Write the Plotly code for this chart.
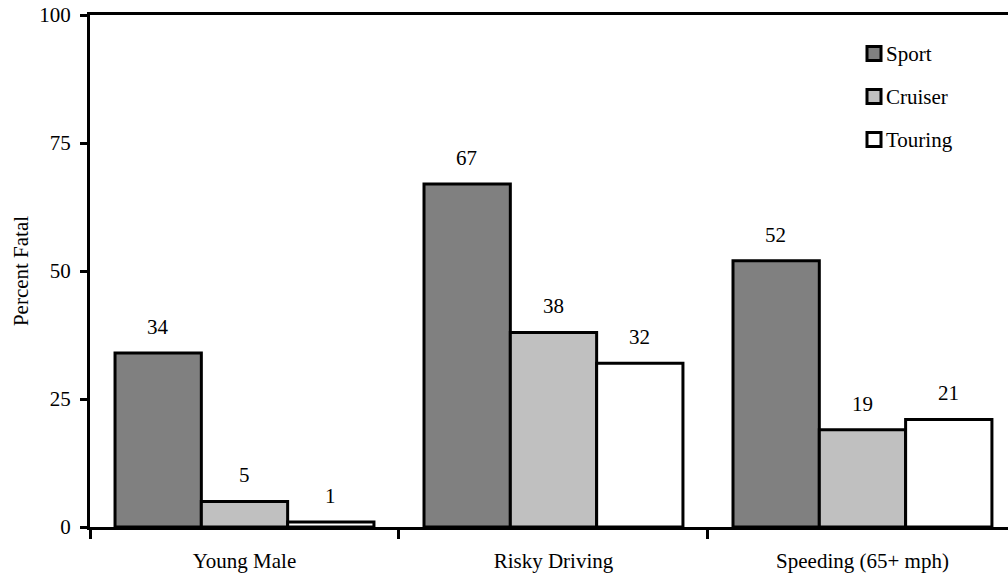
import plotly.graph_objects as go

categories = ["Young Male", "Risky Driving", "Speeding (65+ mph)"]
sport = [34, 67, 52]
cruiser = [5, 38, 19]
touring = [1, 32, 21]
y_ticks = [0, 25, 50, 75, 100]

series = [
    ("Sport", sport, "#808080"),
    ("Cruiser", cruiser, "#c0c0c0"),
    ("Touring", touring, "#ffffff"),
]

FONT = "Liberation Serif"

fig = go.Figure()
for name, vals, color in series:
    fig.add_trace(go.Bar(
        name=name,
        x=categories,
        y=vals,
        showlegend=False,
        marker=dict(color=color, line=dict(color="black", width=3)),
    ))

# value labels above each bar (offset per series within the group)
bar_px = 86.5
for i, (name, vals, color) in enumerate(series):
    for cat, v in zip(categories, vals):
        fig.add_annotation(
            x=cat, y=v, text=str(v), showarrow=False,
            xshift=(i - 1) * bar_px, yshift=12, yanchor="bottom",
            font=dict(family=FONT, size=21, color="black"),
        )

# compact legend: square swatch with the series name right beside it
leg_x0, leg_top, leg_step, sw = 867, 46.5, 43, 14
for i, (name, vals, color) in enumerate(series):
    y0 = leg_top + i * leg_step
    fig.add_shape(
        type="rect", xref="paper", yref="paper",
        x0=(leg_x0 - 90) / 918, x1=(leg_x0 + sw - 90) / 918,
        y0=(527 - y0 - sw) / 512, y1=(527 - y0) / 512,
        fillcolor=color, line=dict(color="black", width=3),
    )
    fig.add_annotation(
        xref="paper", yref="paper",
        x=(leg_x0 + sw + 3 - 90) / 918, y=(527 - y0 - sw / 2) / 512,
        text=name, showarrow=False, xanchor="left", yanchor="middle",
        font=dict(family=FONT, size=21, color="black"),
    )

fig.update_layout(
    width=1008, height=579,
    margin=dict(l=90, r=0, t=15, b=52),
    plot_bgcolor="white", paper_bgcolor="white",
    barmode="group", bargap=0.162, bargroupgap=0,
    font=dict(family=FONT, size=21, color="black"),
    showlegend=False,
    xaxis=dict(
        range=[-0.5, 2.471],
        showline=True, linecolor="black", linewidth=3, mirror=True,
        ticks="outside", tickson="boundaries", ticklen=9, tickwidth=3,
        tickcolor="black", showgrid=False, zeroline=False,
        ticklabelstandoff=13,
        tickfont=dict(family=FONT, size=21),
    ),
    yaxis=dict(
        range=[0, 100], tickvals=y_ticks,
        showline=True, linecolor="black", linewidth=3,
        ticks="outside", ticklen=7, tickwidth=3, tickcolor="black",
        showgrid=False, zeroline=False,
        ticklabelstandoff=5,
        tickfont=dict(family=FONT, size=21),
        title=dict(text="Percent Fatal", font=dict(family=FONT, size=21), standoff=5),
    ),
)

fig.write_html("out.html")
